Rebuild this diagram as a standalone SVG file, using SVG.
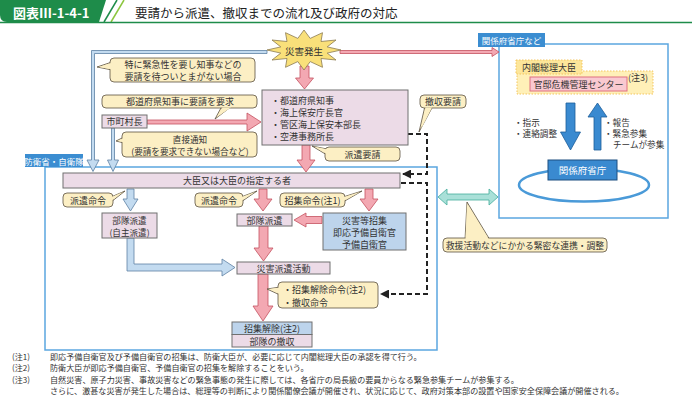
<svg xmlns="http://www.w3.org/2000/svg" width="692" height="404" viewBox="0 0 692 404">
<defs>
<style>
.t{font-family:"Noto Sans CJK JP","Noto Sans",sans-serif;font-size:9px;fill:#333;dominant-baseline:central}
.c{text-anchor:middle}
.w{fill:#fff}
.pk{fill:#ecdbe7;stroke:#707070;stroke-width:1}
.bl{fill:#bdd4ec;stroke:#707070;stroke-width:1}
.co{fill:#fcefc4;stroke:#5a5040;stroke-width:0.8}
.cf{fill:#fcefc4;stroke:none}
.pa{fill:#f3a8b2;stroke:#c4525f;stroke-width:0.8}
.ba{fill:#c3dbf0;stroke:#5d80a3;stroke-width:0.8}
.da{fill:#3a8ad0;stroke:#1d5d99;stroke-width:0.8}
.frame{fill:none;stroke:#5ba6e0;stroke-width:1.5}
.tab{fill:#3b8dd1}
.dash{fill:none;stroke:#222;stroke-width:2;stroke-dasharray:5 3}
.n{font-size:8.1px}
.s{font-size:8.6px}
</style>
<marker id="ah" markerUnits="userSpaceOnUse" markerWidth="9" markerHeight="9" refX="8" refY="4.5" orient="auto">
<path d="M0,0 L9,4.5 L0,9 Z" fill="#222"/>
</marker>
</defs>

<!-- header -->
<g id="header">
<path d="M0,0 H106 L99,22 H7 Q0,22 0,15 Z" fill="#1e8c4a"/>
<line x1="104" y1="22" x2="117" y2="0" stroke="#1e8c4a" stroke-width="1.5"/>
<line x1="111" y1="22" x2="124" y2="0" stroke="#8cc63f" stroke-width="1.5"/>
<line x1="0" y1="22.5" x2="692" y2="22.5" stroke="#1e8c4a" stroke-width="1.5"/>
<text class="t w" x="13" y="12" style="font-size:13px;font-weight:bold">図表Ⅲ-1-4-1</text>
<text class="t" x="135" y="12" style="font-size:12.5px;fill:#222">要請から派遣、撤収までの流れ及び政府の対応</text>
</g>

<!-- frames -->
<g id="frame-mod">
<rect class="frame" x="45" y="167" width="392" height="183"/>
<rect class="tab" x="25" y="154" width="58" height="13"/>
<text class="t c w" x="54" y="160.5" style="font-size:8.5px">防衛省・自衛隊</text>
</g>
<g id="frame-gov">
<rect class="frame" x="499" y="44" width="169" height="174"/>
<rect class="tab" x="478" y="33" width="67" height="14"/>
<text class="t c w" x="511.5" y="40" style="font-size:8.5px">関係府省庁など</text>
</g>

<!-- connectors -->
<g id="connectors">
<path class="ba" d="M267,50.5 H91.5 V160 H87 L93,171.5 L99,160 H94.5 V53.5 H267 Z"/>
<path class="ba" d="M111.5,128 V160 H107.5 L113,171.5 L118.5,160 H114.5 V128 Z"/>
<path class="pa" d="M340,50.5 H492 V47.5 L499,52 L492,56.5 V53.5 H340 Z"/>
<path class="pa" d="M300,66 H309 V78 H313.5 L304.5,89 L295.5,78 H300 Z"/>
<path class="pa" d="M147,120 H247 V113 L261,122 L247,131 V124 H147 Z"/>
<path class="pa" d="M302,145 H310 V160 H315 L306,172 L297,160 H302 Z"/>
<path class="ba" d="M127,189 H134 V199 H138 L130.5,211 L123,199 H127 Z"/>
<path class="pa" d="M259,189 H267 V199 H272 L263,211 L254,199 H259 Z"/>
<path class="pa" d="M365,189 H373 V199 H378 L369,211 L360,199 H365 Z"/>
<path class="pa" d="M322,216.5 H306 V213 L294,220 L306,227 V223.5 H322 Z"/>
<path class="pa" d="M259,226 H268 V248 H273 L263.5,261 L254,248 H259 Z"/>
<path class="pa" d="M258,274 H268 V306 H273 L263,321 L253,306 H258 Z"/>
<path class="ba" d="M127,238 H134 V264 H222 V259 L235,267.5 L222,276 V271 H127 Z"/>
<path d="M447,194 H489 V189 L498,197 L489,205 V200 H447 V205 L438,197 L447,189 Z" fill="#a9e0d8" stroke="#45ad9d" stroke-width="0.8"/>
<path class="dash" d="M408,134 H427 V174 H403" marker-end="url(#ah)"/>
<path class="dash" d="M401,183 H427 V294 H381" marker-end="url(#ah)"/>
<path class="da" d="M566,103 H575 V132 H580.5 L570.5,150 L560.5,132 H566 Z"/>
<path class="da" d="M594,150 H601 V117 H607 L597.5,103 L588,117 H594 Z"/>
</g>

<!-- nodes -->
<g id="disaster">
<polygon points="341,50 327.2,53.1 336,60 321,58.5 322.5,67.3 310.2,61.6 304,70 297.8,61.6 285.5,67.3 287,58.5 272,60 280.8,53.1 267,50 280.8,46.9 272,40 287,41.5 285.5,32.7 297.8,38.4 304,30 310.2,38.4 322.5,32.7 321,41.5 336,40 327.2,46.9" fill="#f9e07a" stroke="#8a7a50" stroke-width="0.8"/>
<text class="t c" x="304" y="51" style="font-size:9.5px">災害発生</text>
</g>

<g id="note-urgent">
<polygon class="co" points="112,62 97,67 112,70"/>
<rect class="co" x="110" y="58" width="145" height="24" rx="4"/>
<polygon class="cf" points="112.5,62.5 99,67 112.5,69.5"/>
<text class="t c" x="183" y="64">特に緊急性を要し知事などの<tspan x="183" dy="12">要請を待ついとまがない場合</tspan></text>
</g>

<g id="note-request">
<polygon class="co" points="222,106 215,119 232,106"/>
<rect class="co" x="102" y="95" width="155" height="13" rx="4"/>
<polygon class="cf" points="222.5,107.5 217,117 231,107.5"/>
<text class="t c" x="180" y="101.5">都道府県知事に要請を要求</text>
</g>

<g id="mayor">
<rect class="pk" x="102" y="115" width="45" height="13"/>
<text class="t c" x="124.5" y="121.5">市町村長</text>
</g>

<g id="note-direct">
<polygon class="co" points="124,137 116,141 124,143"/>
<rect class="co" x="122" y="132" width="135" height="25" rx="4"/>
<polygon class="cf" points="124.5,137.5 118,141 124.5,142.5"/>
<text class="t c s" x="190" y="139">直接通知<tspan x="190" dy="11.8">(要請を要求できない場合など)</tspan></text>
</g>

<g id="governors">
<rect class="pk" x="262" y="90" width="146" height="55"/>
<text class="t" x="271" y="100">・都道府県知事<tspan x="271" dy="12">・海上保安庁長官</tspan><tspan x="271" dy="11.7">・管区海上保安本部長</tspan><tspan x="271" dy="11.8">・空港事務所長</tspan></text>
</g>

<g id="note-withdraw-req">
<polygon class="co" points="425,106 419,132 433,106"/>
<rect class="co" x="420" y="95" width="46" height="13" rx="4"/>
<polygon class="cf" points="425.5,107.5 421,129 432,107.5"/>
<text class="t c" x="443" y="101.5">撤収要請</text>
</g>

<g id="note-dispatch-req">
<polygon class="co" points="327,149 312,146 327,155"/>
<rect class="co" x="325" y="147" width="75" height="14" rx="4"/>
<polygon class="cf" points="327.5,149.5 314,146.5 327.5,154.5"/>
<text class="t c" x="362.5" y="154">派遣要請</text>
</g>

<g id="minister">
<rect class="pk" x="63" y="173" width="337" height="15"/>
<text class="t c" x="237" y="180.5">大臣又は大臣の指定する者</text>
</g>

<g id="note-order1">
<polygon class="co" points="111,197 125,191 111,202"/>
<rect class="co" x="63" y="193" width="50" height="14" rx="4"/>
<polygon class="cf" points="110.5,197.5 123,192 110.5,201.5"/>
<text class="t c" x="88" y="200">派遣命令</text>
</g>

<g id="note-order2">
<polygon class="co" points="241,197 257,191 241,202"/>
<rect class="co" x="195" y="193" width="48" height="14" rx="4"/>
<polygon class="cf" points="240.5,197.5 255,192 240.5,201.5"/>
<text class="t c" x="219" y="200">派遣命令</text>
</g>

<g id="note-call">
<polygon class="co" points="343,197 362,191 343,202"/>
<rect class="co" x="280" y="193" width="65" height="14" rx="4"/>
<polygon class="cf" points="342.5,197.5 360,192 342.5,201.5"/>
<text class="t c" x="312.5" y="200">招集命令(注1)</text>
</g>

<g id="unit-self">
<rect class="pk" x="102" y="213" width="55" height="25"/>
<text class="t c s" x="129.5" y="219.5">部隊派遣<tspan x="129.5" dy="12">(自主派遣)</tspan></text>
</g>

<g id="unit">
<rect class="pk" x="237" y="214" width="55" height="12"/>
<text class="t c" x="264.5" y="220">部隊派遣</text>
</g>

<g id="reserve">
<rect class="bl" x="323" y="213" width="83" height="37"/>
<text class="t c" x="364.5" y="220.5">災害等招集<tspan x="364.5" dy="11.6">即応予備自衛官</tspan><tspan x="364.5" dy="11.6">予備自衛官</tspan></text>
</g>

<g id="activity">
<rect class="pk" x="237" y="262" width="93" height="12"/>
<text class="t c" x="283.5" y="268">災害派遣活動</text>
</g>

<g id="note-release">
<polygon class="co" points="280,287 267,289 280,295"/>
<rect class="co" x="278" y="282" width="100" height="26" rx="4"/>
<polygon class="cf" points="280.5,287.5 269,289 280.5,294.5"/>
<text class="t" x="283" y="289">・招集解除命令(注2)<tspan x="283" dy="12.5">・撤収命令</tspan></text>
</g>

<g id="release">
<rect class="bl" x="232" y="322" width="80" height="12.5"/>
<rect class="pk" x="232" y="334.5" width="80" height="12.5"/>
<text class="t c" x="272" y="328">招集解除(注2)<tspan x="272" dy="13">部隊の撤収</tspan></text>
</g>

<g id="pm">
<rect x="517" y="71" width="136" height="23" fill="#fff0b8" stroke="#f3c560" stroke-width="1" stroke-dasharray="1.5 1.5"/>
<rect x="516" y="60" width="66" height="14" fill="#fde69a" stroke="#f3c560" stroke-width="1" stroke-dasharray="1.5 1.5"/>
<text class="t c" x="549" y="67">内閣総理大臣</text>
<text class="t" x="628" y="77">(注3)</text>
</g>

<g id="crisis-center">
<rect x="530" y="77" width="97" height="14" fill="#f9c9d0" stroke="#e07080" stroke-width="1"/>
<text class="t c" x="578.5" y="84">官邸危機管理センター</text>
</g>

<g id="gov-labels">
<text class="t s" x="514" y="121.5">・指示<tspan x="514" dy="11.5">・連絡調整</tspan></text>
<text class="t s" x="604" y="121.5">・報告<tspan x="604" dy="11.5">・緊急参集</tspan><tspan x="613" dy="11.2">チームが参集</tspan></text>
</g>

<g id="ministries">
<ellipse cx="584" cy="185" rx="65" ry="16.5" fill="none" stroke="#4a9ad8" stroke-width="2.5"/>
<rect x="548" y="160" width="69" height="20" fill="#3a8ad0" stroke="#1d4f80" stroke-width="1"/>
<text class="t c w" x="582.5" y="170" style="font-size:9.5px">関係府省庁</text>
</g>

<g id="note-coop">
<polygon class="co" points="465,240 467,202 490,240"/>
<rect class="co" x="443" y="238" width="164" height="14" rx="4"/>
<polygon class="cf" points="465.5,239.5 467,204 489,239.5"/>
<text class="t c" x="525" y="245" style="font-size:8.8px">救援活動などにかかる緊密な連携・調整</text>
</g>

<g id="notes">
<text class="t n" x="12" y="356">(注1)<tspan x="12" dy="11">(注2)</tspan><tspan x="12" dy="11.5">(注3)</tspan></text>
<text class="t n" x="50" y="356">即応予備自衛官及び予備自衛官の招集は、防衛大臣が、必要に応じて内閣総理大臣の承認を得て行う。<tspan x="50" dy="11">防衛大臣が即応予備自衛官、予備自衛官の招集を解除することをいう。</tspan><tspan x="50" dy="11.5">自然災害、原子力災害、事故災害などの緊急事態の発生に際しては、各省庁の局長級の要員からなる緊急参集チームが参集する。</tspan><tspan x="50" dy="11.5">さらに、激甚な災害が発生した場合は、総理等の判断により関係閣僚会議が開催され、状況に応じて、政府対策本部の設置や国家安全保障会議が開催される。</tspan></text>
</g>
</svg>
